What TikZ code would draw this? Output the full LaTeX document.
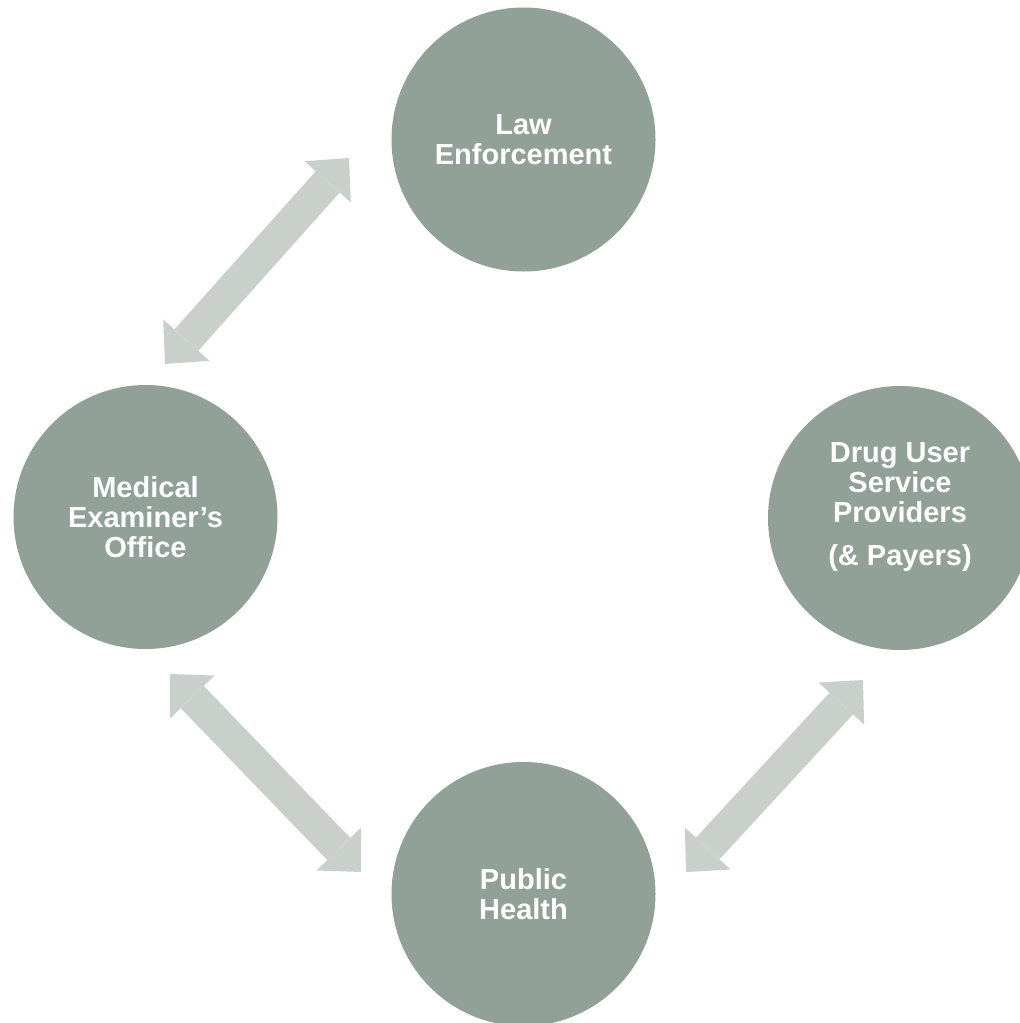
\documentclass[tikz,border=0pt]{standalone}
\usepackage{fontspec}
\setmainfont{Liberation Sans}
\usetikzlibrary{arrows.meta}
\definecolor{hubfill}{RGB}{145,161,151}
\definecolor{arrowgray}{RGB}{201,208,204}
\tikzset{
  hub/.style={circle, fill=hubfill, draw=none, minimum size=264pt, inner sep=0pt},
  hubtext/.style={text=white, align=center, font=\fontsize{29}{30}\selectfont\bfseries},
  biarrow/.style={draw=arrowgray, line width=32pt,
    {Triangle[length=32pt,width=62pt,line width=0pt]}-{Triangle[length=32pt,width=62pt,line width=0pt]}},
}
\begin{document}
\begin{tikzpicture}[x=1pt,y=-1pt]
\useasboundingbox (0,0) rectangle (1020,1023);
\clip (0,0) rectangle (1020,1023);
\fill[white] (0,0) rectangle (1020,1023);

\node[hub, hubtext] (law) at (523.5,139.5) {Law\\Enforcement};
\node[hub, hubtext] (med) at (145.5,517) {Medical\\Examiner’s\\Office};
\node[hub] (drug) at (900,518) {};
\node[hubtext] (drugtxt) at (900,507) {Drug User\\Service\\Providers\\[13pt](\& Payers)};
\node[hub, hubtext] (pub) at (523.5,894) {Public\\Health};

\coordinate (a1s) at (165,364);
\coordinate (a1e) at (349,158);
\coordinate (a2s) at (170,674);
\coordinate (a2e) at (361,872);
\coordinate (a3s) at (686,872);
\coordinate (a3e) at (863,680);

\draw[biarrow] (a1s) -- (a1e);
\draw[biarrow] (a2s) -- (a2e);
\draw[biarrow] (a3s) -- (a3e);
\end{tikzpicture}
\end{document}
